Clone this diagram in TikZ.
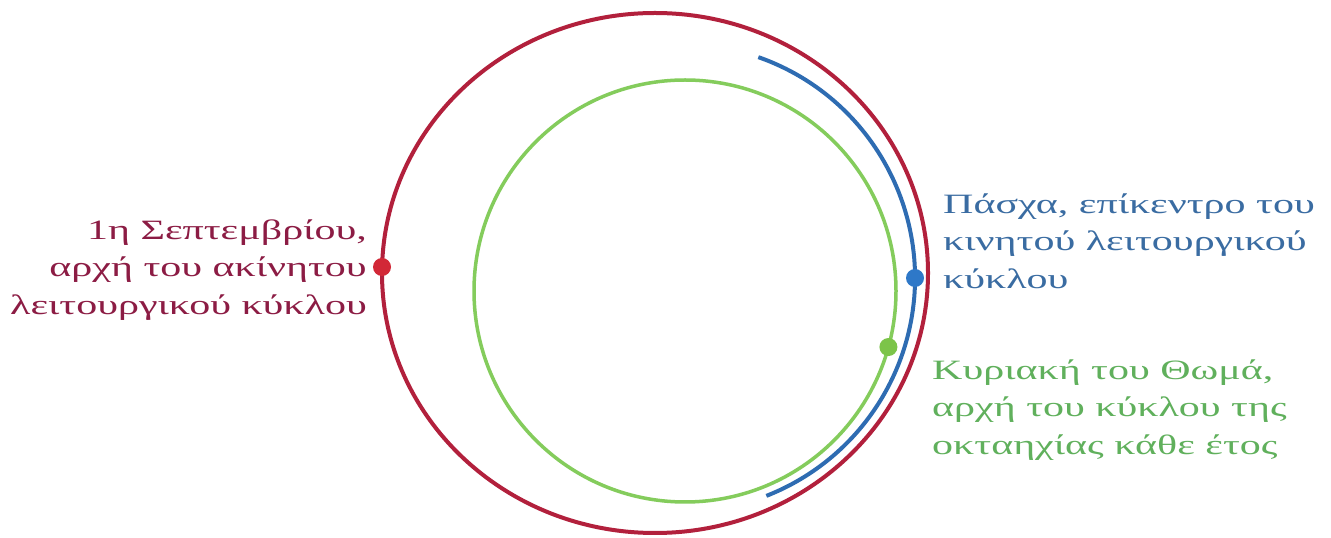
\documentclass[tikz,border=0pt]{standalone}
\usepackage{fontspec}
\setmainfont[FakeStretch=1.5]{Liberation Serif}
\definecolor{redline}{RGB}{178,32,60}
\definecolor{reddot}{RGB}{210,40,55}
\definecolor{redtext}{RGB}{140,28,68}
\definecolor{blueline}{RGB}{46,108,178}
\definecolor{bluedot}{RGB}{46,120,200}
\definecolor{bluetext}{RGB}{58,108,162}
\definecolor{greenline}{RGB}{132,204,92}
\definecolor{greendot}{RGB}{124,196,73}
\definecolor{greentext}{RGB}{96,176,92}
\tikzset{
  ring/.style={line width=4pt},
  dot/.style={circle, inner sep=0pt, minimum size=18pt},
  label/.style={inner sep=0pt, font=\fontsize{28pt}{37.5pt}\selectfont}
}
\begin{document}
\begin{tikzpicture}[x=1pt,y=1pt]
\useasboundingbox[fill=white] (0,0) rectangle (1331,538);
% red outer ring (fixed cycle)
\draw[ring, redline] (655,265) ellipse [x radius=273, y radius=260];
% green inner ring (octoechos)
\draw[ring, greenline, line width=3.5pt] (685,247) circle [radius=211];
% blue arc (movable cycle)
\draw[ring, blueline] (681,260) ++(70.7:234) arc [start angle=70.7, end angle=-68.6, radius=234];
% dots
\node[dot, fill=reddot] (sep) at (382,271) {};
\node[dot, fill=bluedot] (pascha) at (915,260) {};
\node[dot, fill=greendot] (thomas) at ({685+211*cos(-15.4)},{247+211*sin(-15.4)}) {};
% labels
\node[label, text=redtext, anchor=east, align=right] (septtxt) at (367,268)
  {1η Σεπτεμβρίου,\\αρχή του ακίνητου\\λειτουργικού κύκλου};
\node[label, text=bluetext, anchor=west, align=left] (paschatxt) at (943,297)
  {Πάσχα, επίκεντρο του\\κινητού λειτουργικού\\κύκλου};
\node[label, text=greentext, anchor=west, align=left] (thomastxt) at (932,128)
  {Κυριακή του Θωμά,\\αρχή του κύκλου της\\οκταηχίας κάθε έτος};
\end{tikzpicture}
\end{document}
